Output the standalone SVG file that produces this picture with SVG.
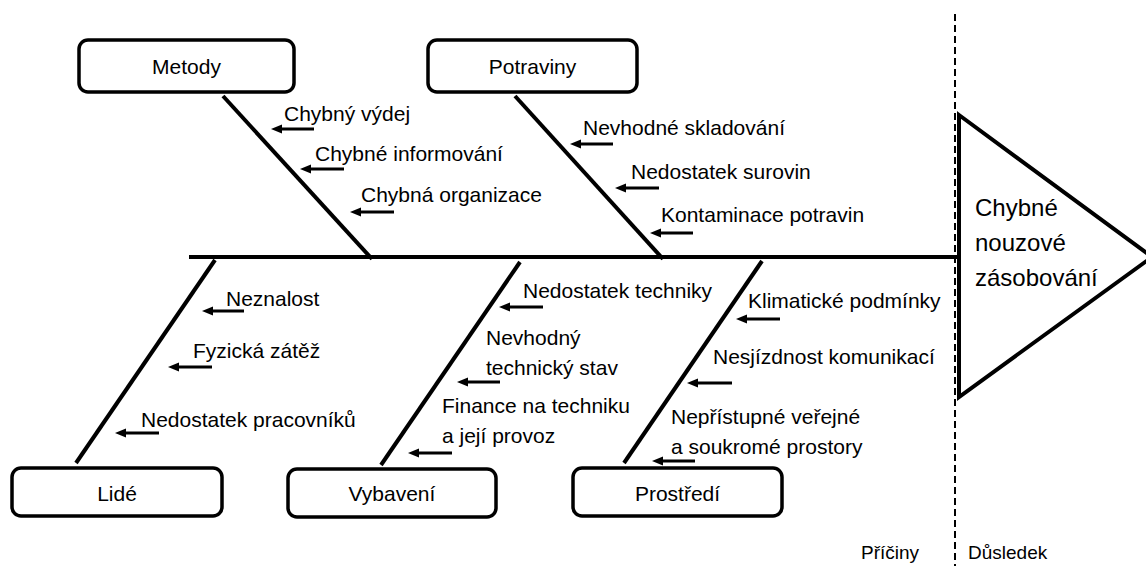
<svg xmlns="http://www.w3.org/2000/svg" width="1146" height="570" viewBox="0 0 1146 570">
<defs>
<style>
.box{fill:#fff;stroke:#000;stroke-width:3.5}
.bone{stroke:#000;stroke-width:4;fill:none}
.arr{stroke:#000;stroke-width:3;fill:none}
.t{font-family:"Liberation Sans",Arial,sans-serif;font-size:21px;fill:#000}
.tc{font-family:"Liberation Sans",Arial,sans-serif;font-size:21px;fill:#000;text-anchor:middle}
.big{font-family:"Liberation Sans",Arial,sans-serif;font-size:24px;fill:#000}
.small{font-family:"Liberation Sans",Arial,sans-serif;font-size:19px;fill:#000}
</style>
<marker id="ah" markerUnits="userSpaceOnUse" markerWidth="12" markerHeight="10" refX="2" refY="4.5" orient="auto">
<path d="M0,0 L11,4.5 L0,9 z" fill="#000"/>
</marker>
</defs>
<rect width="1146" height="570" fill="#fff"/>
<line x1="955" y1="14" x2="955" y2="566" stroke="#000" stroke-width="2" stroke-dasharray="7 4"/>
<g id="connectors">
<line class="bone" x1="189" y1="257" x2="960" y2="257"/>
<line class="bone" x1="223" y1="96" x2="372" y2="259"/>
<line class="bone" x1="515" y1="96" x2="663" y2="259"/>
<line class="bone" x1="215" y1="260" x2="76" y2="463"/>
<line class="bone" x1="520" y1="262" x2="381" y2="465"/>
<line class="bone" x1="762" y1="261" x2="624" y2="463"/>
<g id="arrows" marker-end="url(#ah)">
<line class="arr" x1="314" y1="129" x2="280" y2="129" marker-end="url(#ah)"/>
<line class="arr" x1="344" y1="169" x2="309" y2="169" marker-end="url(#ah)"/>
<line class="arr" x1="394" y1="212" x2="359" y2="212" marker-end="url(#ah)"/>
<line class="arr" x1="613" y1="144" x2="579" y2="144" marker-end="url(#ah)"/>
<line class="arr" x1="659" y1="188" x2="624" y2="188" marker-end="url(#ah)"/>
<line class="arr" x1="693" y1="233" x2="659" y2="233" marker-end="url(#ah)"/>
<line class="arr" x1="244" y1="311" x2="211" y2="311" marker-end="url(#ah)"/>
<line class="arr" x1="212" y1="367" x2="177" y2="367" marker-end="url(#ah)"/>
<line class="arr" x1="159" y1="433" x2="124" y2="433" marker-end="url(#ah)"/>
<line class="arr" x1="543" y1="307" x2="508" y2="307" marker-end="url(#ah)"/>
<line class="arr" x1="500" y1="382" x2="466" y2="382" marker-end="url(#ah)"/>
<line class="arr" x1="452" y1="453" x2="417" y2="453" marker-end="url(#ah)"/>
<line class="arr" x1="780" y1="319" x2="745" y2="319" marker-end="url(#ah)"/>
<line class="arr" x1="732" y1="383" x2="696" y2="383" marker-end="url(#ah)"/>
<line class="arr" x1="695" y1="461" x2="661" y2="461" marker-end="url(#ah)"/>
</g>
</g>
<g id="node-metody">
<rect class="box" x="79" y="40" width="215" height="52" rx="9"/>
<text class="tc" x="186.5" y="74">Metody</text>
</g>
<g id="node-potraviny">
<rect class="box" x="428" y="40" width="209" height="52" rx="9"/>
<text class="tc" x="532.5" y="74">Potraviny</text>
</g>
<g id="node-lide">
<rect class="box" x="12" y="468" width="210" height="48" rx="9"/>
<text class="tc" x="117" y="501">Lidé</text>
</g>
<g id="node-vybaveni">
<rect class="box" x="288" y="469" width="208" height="48" rx="9"/>
<text class="tc" x="392" y="501">Vybavení</text>
</g>
<g id="node-prostredi">
<rect class="box" x="573" y="468" width="209" height="48" rx="9"/>
<text class="tc" x="677.5" y="501">Prostředí</text>
</g>
<g id="node-effect">
<polygon points="959,115 1152,257 959,397" fill="#fff" stroke="#000" stroke-width="4" stroke-linejoin="miter"/>
<text class="big" x="975" y="216">Chybné</text>
<text class="big" x="975" y="251">nouzové</text>
<text class="big" x="975" y="286">zásobování</text>
</g>
<g id="causes">
<text class="t" x="284" y="121">Chybný výdej</text>
<text class="t" x="315" y="161">Chybné informování</text>
<text class="t" x="361" y="202">Chybná organizace</text>
<text class="t" x="583" y="135">Nevhodné skladování</text>
<text class="t" x="631" y="179">Nedostatek surovin</text>
<text class="t" x="661" y="222">Kontaminace potravin</text>
<text class="t" x="226" y="306">Neznalost</text>
<text class="t" x="193" y="358">Fyzická zátěž</text>
<text class="t" x="141" y="427">Nedostatek pracovníků</text>
<text class="t" x="523" y="298">Nedostatek techniky</text>
<text class="t" x="486" y="345">Nevhodný</text>
<text class="t" x="486" y="375">technický stav</text>
<text class="t" x="442" y="413">Finance na techniku</text>
<text class="t" x="442" y="443">a její provoz</text>
<text class="t" x="748" y="308">Klimatické podmínky</text>
<text class="t" x="713" y="364">Nesjízdnost komunikací</text>
<text class="t" x="671" y="424">Nepřístupné veřejné</text>
<text class="t" x="671" y="454">a soukromé prostory</text>
</g>
<text class="small" x="861" y="559">Příčiny</text>
<text class="small" x="968" y="559">Důsledek</text>
</svg>
